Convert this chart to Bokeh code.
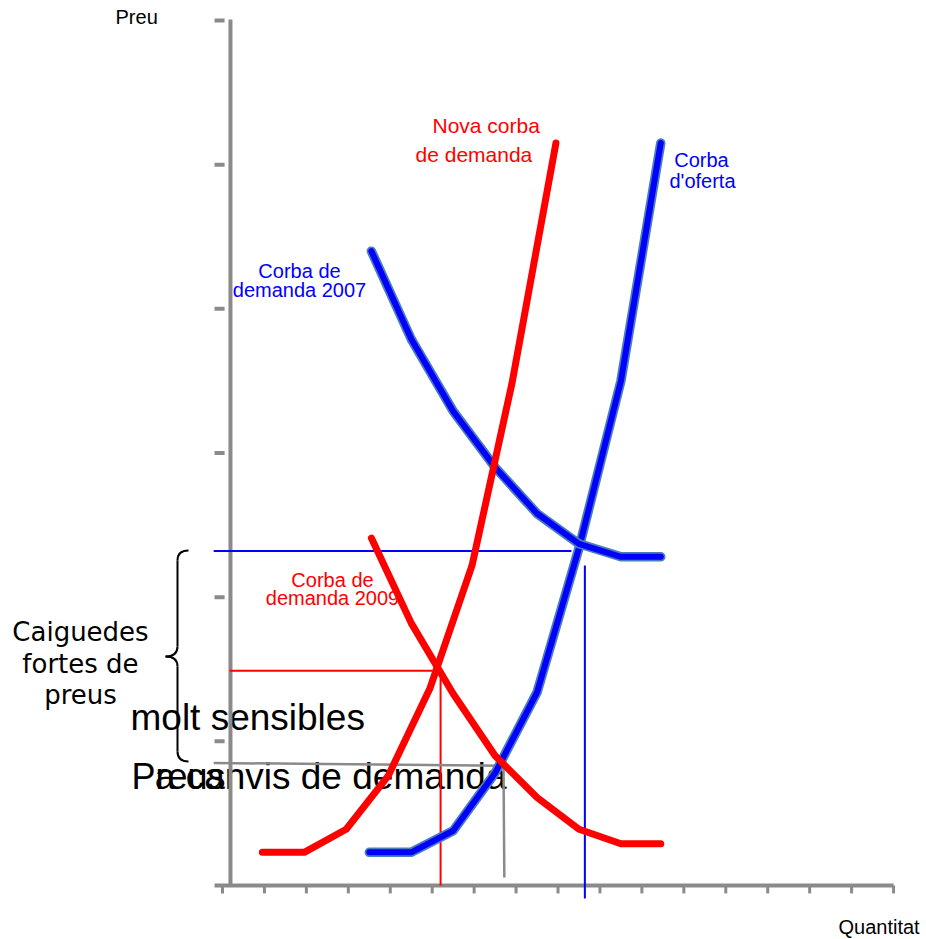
from bokeh.plotting import figure
from bokeh.models import Range1d
from bokeh.core.properties import value
from bokeh.embed import file_html
from bokeh.resources import INLINE

# ---------------- data (quantity units: one x tick = 1, price units: one y tick = 1)
quantity_ticks = list(range(0, 17))
price_ticks = [1, 2, 3, 4, 5, 6]

supply_q = [3.5, 4.5, 5.5, 6.5, 7.5, 8.5, 9.5, 10.45]
supply_p = [0.23, 0.23, 0.38, 0.78, 1.34, 2.34, 3.50, 5.15]

demand2007_q = [3.55, 4.5, 5.5, 6.5, 7.5, 8.5, 9.5, 10.45]
demand2007_p = [4.40, 3.79, 3.29, 2.90, 2.58, 2.37, 2.28, 2.28]

new_demand_q = [0.95, 1.95, 2.95, 3.95, 4.95, 5.95, 6.9, 7.95]
new_demand_p = [0.23, 0.23, 0.39, 0.76, 1.37, 2.22, 3.48, 5.15]

demand2009_q = [3.55, 4.5, 5.5, 6.5, 7.5, 8.5, 9.5, 10.45]
demand2009_p = [2.41, 1.82, 1.33, 0.90, 0.61, 0.39, 0.29, 0.29]

# equilibrium guide lines: (price, quantity)
eq2007_price, eq2007_qty = 2.32, 8.64
eq_new_price, eq_new_qty = 1.49, 5.20
eq2009_price, eq2009_qty = 0.85, 6.70

# ---------------- figure
W, H = 926, 939
SX, SY = 41.94, 144.17
X0, Y0 = 222.0, 885.0
p = figure(width=W, height=H,
           x_range=Range1d(-X0 / SX, (W - X0) / SX), y_range=Range1d((Y0 - H) / SY, Y0 / SY),
           output_backend="svg", toolbar_location=None,
           x_axis_location=None, y_axis_location=None,
           min_border=0, outline_line_color=None)
p.grid.visible = False
p.background_fill_color = "white"
p.border_fill_color = "white"

SANS = value("Liberation Sans")

# big black texts
p.text(x=[-3.386] * 3, y=[1.755, 1.533, 1.318],
       text=["Caiguedes", "fortes de", "preus"],
       text_font=value("DejaVu Sans"), text_font_size="26px",
       text_align="center", text_baseline="alphabetic", text_color="black")
p.text(x=[-2.194], y=[1.165], text=["molt sensibles"], text_font=SANS,
       text_font_size="37px", text_align="left", text_baseline="alphabetic",
       text_color="black")
p.text(x=[-2.17], y=[0.756], text=["Preus"], text_font=SANS,
       text_font_size="36px", text_align="left", text_baseline="alphabetic",
       text_color="black")
p.text(x=[6.772], y=[0.756], text=["a canvis de demanda"], text_font=SANS,
       text_font_size="37px", text_align="right", text_baseline="alphabetic",
       text_color="black")

# curve labels
p.text(x=[1.836, 1.836], y=[4.259, 4.134], text=["Corba de", "demanda 2007"],
       text_font=SANS, text_font_size="20px", text_align="center",
       text_baseline="alphabetic", text_color="#0000ff")
p.text(x=[2.623, 2.623], y=[2.122, 1.991], text=["Corba de", "demanda 2009"],
       text_font=SANS, text_font_size="20px", text_align="center",
       text_baseline="alphabetic", text_color="#ff0000")
p.text(x=[5.007, 4.602], y=[5.272, 5.071], text=["Nova corba", "de demanda"],
       text_font=SANS, text_font_size="21px", text_align="left",
       text_baseline="alphabetic", text_color="#ff0000")
p.text(x=[11.421, 11.445], y=[5.029, 4.884], text=["Corba", "d'oferta"],
       text_font=SANS, text_font_size="20px", text_align="center",
       text_baseline="alphabetic", text_color="#0000ff")

# axis titles
p.text(x=[-2.551], y=[6.021], text=["Preu"], text_font=SANS, text_font_size="20px",
       text_align="left", text_baseline="alphabetic", text_color="black")
p.text(x=[14.688], y=[-0.291], text=["Quantitat"], text_font=SANS, text_font_size="20px",
       text_align="left", text_baseline="alphabetic", text_color="black")

# axes drawn as gray lines
AX = "#8a8a8a"
p.segment(x0=[0.19], y0=[0], x1=[0.19], y1=[6.007], line_color=AX, line_width=4)
p.segment(x0=[-0.19], y0=[0], x1=[16.0], y1=[0], line_color=AX, line_width=4)
p.segment(x0=quantity_ticks, y0=[0] * len(quantity_ticks), x1=quantity_ticks,
          y1=[-0.055] * len(quantity_ticks), line_color=AX, line_width=3)
p.segment(x0=[-0.19] * len(price_ticks), y0=price_ticks, x1=[0.05] * len(price_ticks),
          y1=price_ticks, line_color=AX, line_width=4)

# guide lines
p.segment(x0=[-0.21], y0=[eq2007_price], x1=[8.32], y1=[eq2007_price],
          line_color="#0000ff", line_width=2)
p.segment(x0=[eq2007_qty], y0=[2.22], x1=[eq2007_qty], y1=[-0.09],
          line_color="#0000ff", line_width=2)
p.segment(x0=[0.17], y0=[eq_new_price], x1=[5.13], y1=[eq_new_price],
          line_color="#ff0000", line_width=2)
p.segment(x0=[eq_new_qty], y0=[eq_new_price], x1=[eq_new_qty], y1=[0],
          line_color="#ff0000", line_width=2)
p.segment(x0=[-0.21], y0=[eq2009_price], x1=[eq2009_qty - 0.02], y1=[eq2009_price - 0.02],
          line_color="#8a8a8a", line_width=2.5)
p.segment(x0=[eq2009_qty], y0=[eq2009_price - 0.02], x1=[eq2009_qty + 0.02], y1=[0.055],
          line_color="#8a8a8a", line_width=2.5)

# brace
BR = dict(line_color="black", line_width=2)
p.quadratic(x0=[-0.811], y0=[2.324], x1=[-1.073], y1=[2.254], cx=[-1.073], cy=[2.324], **BR)
p.segment(x0=[-1.073], y0=[2.254], x1=[-1.073], y1=[1.658], **BR)
p.quadratic(x0=[-1.073], y0=[1.658], x1=[-1.359], y1=[1.588], cx=[-1.073], cy=[1.588], **BR)
p.quadratic(x0=[-1.359], y0=[1.588], x1=[-1.073], y1=[1.519], cx=[-1.073], cy=[1.588], **BR)
p.segment(x0=[-1.073], y0=[1.519], x1=[-1.073], y1=[0.929], **BR)
p.quadratic(x0=[-1.073], y0=[0.929], x1=[-0.811], y1=[0.860], cx=[-1.073], cy=[0.860], **BR)

# curves
for qs, ps in [(supply_q, supply_p), (demand2007_q, demand2007_p)]:
    p.line(qs, ps, line_color="#4a7ebb", line_width=9.5, line_cap="round", line_join="round")
    p.line(qs, ps, line_color="#0000ff", line_width=6, line_cap="round", line_join="round")
for qs, ps in [(new_demand_q, new_demand_p), (demand2009_q, demand2009_p)]:
    p.line(qs, ps, line_color="#ff0000", line_width=7, line_cap="round", line_join="round")

open("out.html", "w").write(file_html(p, INLINE))
